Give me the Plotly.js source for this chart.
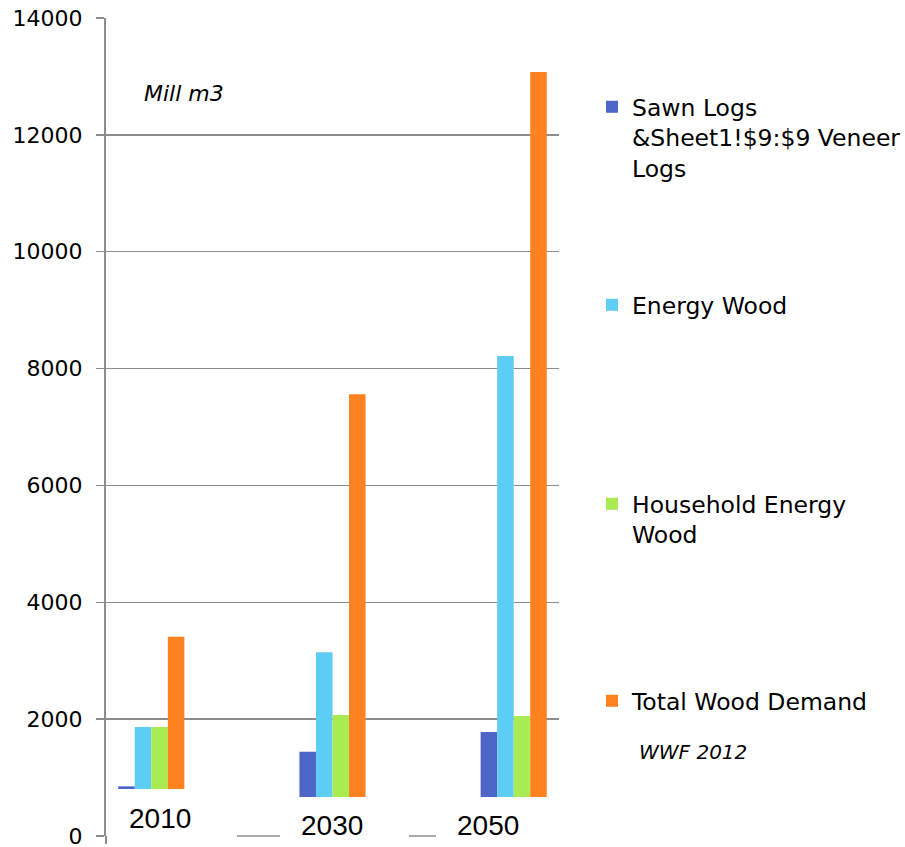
<!DOCTYPE html>
<html>
<head>
<meta charset="utf-8">
<script src="https://cdn.plot.ly/plotly-3.0.1.min.js"></script>
<style>html,body{margin:0;padding:0;background:#fff;}#chart{width:905px;height:847px;}</style>
</head>
<body>
<div id="chart"></div>
<script>
// ---- data ----
const categories = ['2010', '2030', '2050'];
const seriesNames = [
  'Sawn Logs<br>&amp;Sheet1!$9:$9 Veneer<br>Logs',
  'Energy Wood',
  'Household Energy<br>Wood',
  'Total Wood Demand'
];
const sawnLogs = [850, 1440, 1780];
const energyWood = [1865, 3145, 8215];
const householdWood = [1865, 2070, 2055];
const totalDemand = [3410, 7560, 13075];
const yTicks = [0, 2000, 4000, 6000, 8000, 10000, 12000, 14000];

// ---- styles ----
const W = 905, H = 847;
const colors = ['#4e66c7', '#5ecdf4', '#aaea52', '#ff8221'];
const values = [sawnLogs, energyWood, householdWood, totalDemand];
const legendIds = ['legend', 'legend2', 'legend3', 'legend4'];
const legendTopPx = [85, 283, 482, 679];
const grey = '#8c8c8c';
const FONT = 'DejaVu Sans';

const traces = values.map((v, i) => ({
  type: 'bar',
  x: categories,
  y: v,
  name: seriesNames[i],
  legend: legendIds[i],
  marker: {color: colors[i], line: {width: 0}},
  hoverinfo: 'x+y'
}));

const L = 106, R = 346, T = 18, B = 11;
const pw = W - L - R, ph = H - T - B;
const px = x => (x - L) / pw;        // pixel -> paper x
const py = y => (H - B - y) / ph;    // pixel -> paper y

const layout = {
  width: W, height: H,
  margin: {l: L, r: R, t: T, b: B, pad: 0, autoexpand: false},
  paper_bgcolor: '#ffffff', plot_bgcolor: '#ffffff',
  font: {family: FONT, size: 22, color: '#000000'},
  barmode: 'group', bargap: 0.635, bargroupgap: 0,
  xaxis: {
    type: 'category', range: [-0.25, 2.25],
    showticklabels: false, showgrid: false, zeroline: false, showline: false, ticks: ''
  },
  yaxis: {
    range: [0, 14000], tickvals: yTicks, ticktext: yTicks.map(String),
    showgrid: true, gridcolor: grey, gridwidth: 1.5,
    zeroline: false, showline: true, linecolor: grey, linewidth: 2,
    ticks: 'outside', ticklen: 8, tickcolor: grey, tickwidth: 1.5,
    ticklabelstandoff: 9, ticklabeloverflow: 'allow',
    tickfont: {family: FONT, size: 22, color: '#000000'}
  },
  showlegend: true,
  shapes: [
    // white boxes in front of the bottom part of the chart
    {type: 'rect', layer: 'above', xref: 'paper', yref: 'paper', x0: px(108), x1: px(237), y0: -0.05, y1: py(789), fillcolor: '#ffffff', line: {width: 0}},
    {type: 'rect', layer: 'above', xref: 'paper', yref: 'paper', x0: px(280), x1: px(409), y0: -0.05, y1: py(797), fillcolor: '#ffffff', line: {width: 0}},
    {type: 'rect', layer: 'above', xref: 'paper', yref: 'paper', x0: px(436), x1: 1.02, y0: -0.05, y1: py(797), fillcolor: '#ffffff', line: {width: 0}},
    // visible bits of the base line between the boxes
    {type: 'line', layer: 'above', xref: 'paper', yref: 'paper', x0: px(237), x1: px(280), y0: 0, y1: 0, line: {color: grey, width: 1.5}},
    {type: 'line', layer: 'above', xref: 'paper', yref: 'paper', x0: px(409), x1: px(436), y0: 0, y1: 0, line: {color: grey, width: 1.5}},
    // y axis line continues a little below zero
    {type: 'line', layer: 'above', xref: 'paper', yref: 'paper', x0: 0, x1: 0, y0: 0, y1: py(844), line: {color: grey, width: 2}}
  ],
  annotations: []
};

legendIds.forEach((id, i) => {
  layout[id] = {
    xref: 'container', yref: 'container',
    x: 592 / W, xanchor: 'left', y: 1 - legendTopPx[i] / H, yanchor: 'top',
    bgcolor: 'rgba(0,0,0,0)', borderwidth: 0, valign: 'top',
    font: {family: FONT, size: 23.5, color: '#000000'}
  };
});

// category labels
const catLabelPos = [[160, 818.5], [332, 825], [488, 825]];
categories.forEach((c, i) => {
  layout.annotations.push({
    xref: 'paper', yref: 'paper', x: px(catLabelPos[i][0]), y: py(catLabelPos[i][1]),
    text: c, showarrow: false, xanchor: 'center', yanchor: 'middle',
    font: {family: 'Liberation Sans', size: 28, color: '#000000'}
  });
});
layout.annotations.push({
  xref: 'paper', yref: 'paper', x: px(142), y: py(94),
  text: '<i>Mill m3</i>', showarrow: false, xanchor: 'left', yanchor: 'middle',
  font: {family: FONT, size: 22, color: '#000000'}
});
layout.annotations.push({
  xref: 'paper', yref: 'paper', x: px(637), y: py(752),
  text: '<i>WWF 2012</i>', showarrow: false, xanchor: 'left', yanchor: 'middle',
  font: {family: FONT, size: 20, color: '#000000'}
});

Plotly.newPlot('chart', traces, layout, {displayModeBar: false, staticPlot: true});
</script>
</body>
</html>
